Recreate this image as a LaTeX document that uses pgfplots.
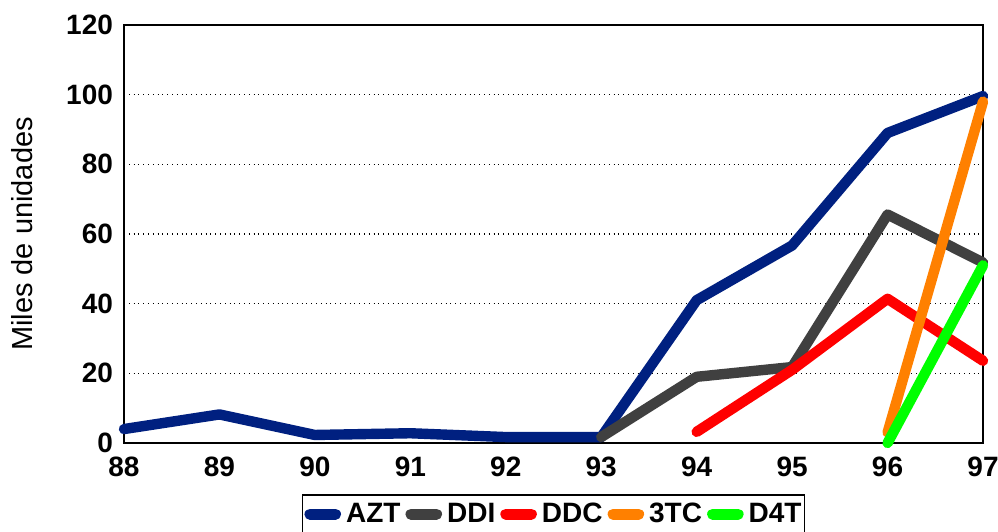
\documentclass[border=0pt]{standalone}
\usepackage{fontspec}
\setmainfont{Liberation Sans}
\usepackage{pgfplots}
\pgfplotsset{compat=1.18}
\definecolor{cazt}{RGB}{0,32,128}
\definecolor{cddi}{RGB}{64,64,64}
\definecolor{cddc}{RGB}{255,0,0}
\definecolor{c3tc}{RGB}{255,128,0}
\definecolor{cd4t}{RGB}{0,255,0}
\begin{document}
\begin{tikzpicture}
\begin{axis}[
  name=ax,
  scale only axis,
  width=429.5pt, height=209pt,
  xmin=88, xmax=97, ymin=0, ymax=120,
  xtick={88,...,97},
  ytick={0,20,...,120},
  tick style={draw=none},
  ymajorgrids,
  grid style={black, dotted, line width=0.8pt},
  axis line style={black, line width=0.8pt},
  tick label style={font=\fontsize{14}{16}\selectfont\bfseries},
  /pgf/number format/assume math mode=true,
  xticklabel style={yshift=-3.5pt},
  yticklabel style={xshift=-2pt},
  ylabel={Miles de unidades},
  ylabel style={font=\fontsize{14.5}{16}\selectfont, yshift=10pt},
  legend style={at={(0.5,-0.122)}, anchor=north, legend columns=-1,
    draw=black, line width=0.8pt, font=\fontsize{14}{16}\selectfont\bfseries,
    inner xsep=1pt, inner ysep=2pt, column sep=2pt,
    nodes={inner xsep=0.5pt}},
  legend image code/.code={\draw[#1, line width=5.5pt, line cap=round] (0.05cm,0cm) -- (0.5cm,0cm);},
  every axis plot/.append style={line width=5.2pt, line cap=round, line join=round},
  clip=false,
]
\addplot[cazt] coordinates {(88,4) (89,8.2) (90,2.3) (91,2.8) (92,1.7) (93,1.7) (94,41) (95,56.7) (96,89) (97,99.6)};
\addlegendentry{AZT}
\addplot[cddi] coordinates {(93,1.7) (94,19) (95,21.8) (96,65.6) (97,51.8)};
\addlegendentry{DDI}
\addplot[cddc] coordinates {(94,3.2) (95,21) (96,41.4) (97,23.6)};
\addlegendentry{DDC}
\addplot[c3tc] coordinates {(96,3) (97,98)};
\addlegendentry{3TC}
\addplot[cd4t] coordinates {(96,0) (97,51)};
\addlegendentry{D4T}
\end{axis}
\pgfresetboundingbox
\path ([shift={(-62pt,-44.5pt)}]ax.south west) rectangle ([shift={(7.5pt,12.5pt)}]ax.north east);
\end{tikzpicture}
\end{document}
